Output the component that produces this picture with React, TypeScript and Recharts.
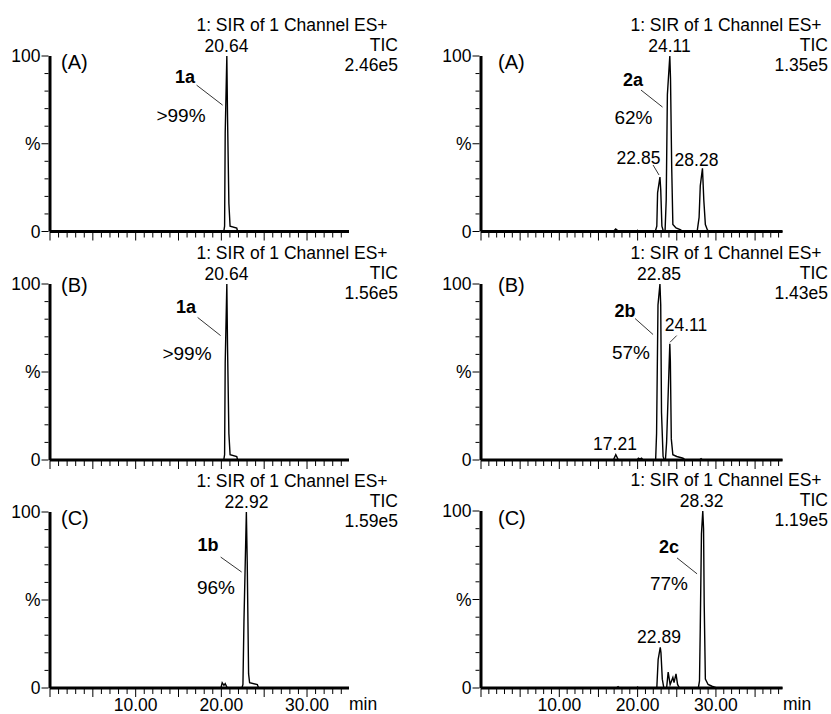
import React from "react";
import { LineChart, Line, XAxis, YAxis, ReferenceLine } from "recharts";

type Pt = [number, number];

// retention time (min), relative abundance (%)
const trace1A: Pt[] = [
  [0, 0], [20.28, 0], [20.38, 3], [20.45, 56], [20.64, 100], [20.72, 66],
  [20.88, 16], [21.02, 3], [21.8, 2], [21.9, 0], [34.9, 0],
];
const trace1B: Pt[] = [
  [0, 0], [20.28, 0], [20.38, 3], [20.45, 55], [20.64, 100], [20.72, 65],
  [20.88, 15], [21.02, 3], [21.8, 2], [21.9, 0], [34.9, 0],
];
const trace1C: Pt[] = [
  [0, 0], [19.95, 0], [20.1, 3], [20.3, 1.5], [20.45, 2.5], [20.7, 0],
  [22.4, 0], [22.52, 2], [22.64, 38], [22.92, 100], [23.02, 72], [23.18, 8],
  [23.3, 3], [24.2, 2], [24.35, 0], [34.9, 0],
];
const trace2A: Pt[] = [
  [0, 0], [16.9, 0], [17.2, 1.5], [17.6, 0], [19.9, 0], [20.0, 0.6], [20.1, 0],
  [22.25, 0], [22.45, 3], [22.55, 22], [22.85, 31], [22.95, 24], [23.1, 3], [23.3, 0],
  [23.5, 0], [23.65, 18], [23.8, 78], [24.11, 100], [24.2, 87], [24.35, 37], [24.5, 4],
  [24.9, 2], [25.5, 1], [25.7, 0],
  [27.6, 0], [27.85, 8], [28.0, 26], [28.28, 36], [28.45, 18], [28.65, 4], [28.9, 1],
  [29.1, 0], [38.5, 0],
];
const trace2B: Pt[] = [
  [0, 0], [16.9, 0], [17.21, 3], [17.55, 0], [19.95, 0], [20.1, 1], [20.3, 0.5],
  [20.5, 1], [20.7, 0],
  [22.3, 0], [22.42, 15], [22.6, 88], [22.85, 100], [22.95, 88], [23.05, 27], [23.25, 2],
  [23.4, 0], [23.55, 0], [23.7, 10], [24.11, 66], [24.18, 56], [24.3, 12], [24.5, 3],
  [25.0, 2], [25.8, 1], [26.1, 0], [27.9, 0], [28.1, 0.8], [28.3, 0], [38.5, 0],
];
const trace2C: Pt[] = [
  [0, 0], [17.3, 0], [17.5, 0.8], [17.7, 0], [19.9, 0], [20.0, 0.5], [20.1, 0],
  [22.45, 0], [22.62, 16], [22.89, 23], [22.98, 20], [23.15, 5], [23.35, 0],
  [23.7, 0], [23.9, 9], [24.15, 2], [24.5, 6], [24.65, 3], [24.9, 8], [25.1, 2], [25.35, 0],
  [27.75, 0], [27.9, 4], [28.0, 34], [28.15, 87], [28.32, 100], [28.42, 90], [28.5, 48],
  [28.65, 5], [29.0, 2], [29.5, 1], [30.1, 0], [38.5, 0],
];

// leader lines (data coords): [t1, v1, t2, v2]
const leaders1A = [[17.11, 83.4, 20.15, 72]];
const leaders1B = [[17.23, 81, 19.91, 70.7]];
const leaders1C = [[19.92, 74.4, 22.37, 65.9]];
const leaders2A = [[20.43, 80.6, 23.18, 70.9], [21.97, 37.9, 22.73, 32.2]];
const leaders2B = [[19.67, 80.4, 21.97, 71.3], [24.99, 70.7, 24.14, 66.9]];
const leaders2C = [[25.03, 73.5, 27.59, 64.5]];

const yTickLabels: Record<number, string> = { 0: "0", 50: "%", 100: "100" };
const xTickLabels: Record<number, string> = { 10: "10.00", 20: "20.00", 30: "30.00" };

const FONT = '"Liberation Sans", Arial, sans-serif';
const FS = 17.5;

type Ann = { s: string; x: number; y: number; a?: "start" | "middle" | "end"; size?: number; bold?: boolean };

const annotations: Ann[] = [
  // left A
  { s: "1: SIR of 1 Channel ES+", x: 292, y: 25 },
  { s: "20.64", x: 226.5, y: 46 },
  { s: "TIC", x: 398, y: 45, a: "end" },
  { s: "2.46e5", x: 398, y: 65, a: "end" },
  { s: "(A)", x: 61, y: 62, a: "start", size: 20 },
  { s: "1a", x: 185, y: 77, bold: true, size: 18 },
  { s: ">99%", x: 181, y: 115, size: 19 },
  // left B
  { s: "1: SIR of 1 Channel ES+", x: 292, y: 253 },
  { s: "20.64", x: 226.5, y: 274 },
  { s: "TIC", x: 398, y: 273, a: "end" },
  { s: "1.56e5", x: 398, y: 293, a: "end" },
  { s: "(B)", x: 61, y: 285, a: "start", size: 20 },
  { s: "1a", x: 186, y: 307, bold: true, size: 18 },
  { s: ">99%", x: 187, y: 353, size: 19 },
  // left C
  { s: "1: SIR of 1 Channel ES+", x: 292, y: 481 },
  { s: "22.92", x: 246.5, y: 502 },
  { s: "TIC", x: 398, y: 501, a: "end" },
  { s: "1.59e5", x: 398, y: 521, a: "end" },
  { s: "(C)", x: 61, y: 518, a: "start", size: 20 },
  { s: "1b", x: 208, y: 545, bold: true, size: 18 },
  { s: "96%", x: 216, y: 587, size: 19 },
  // right A
  { s: "1: SIR of 1 Channel ES+", x: 726, y: 25 },
  { s: "24.11", x: 669.5, y: 46 },
  { s: "TIC", x: 828, y: 45, a: "end" },
  { s: "1.35e5", x: 828, y: 65, a: "end" },
  { s: "(A)", x: 498, y: 62, a: "start", size: 20 },
  { s: "2a", x: 633, y: 80, bold: true, size: 18 },
  { s: "62%", x: 633.5, y: 117, size: 19 },
  { s: "22.85", x: 638.5, y: 158 },
  { s: "28.28", x: 696.5, y: 160 },
  // right B
  { s: "1: SIR of 1 Channel ES+", x: 726, y: 253 },
  { s: "22.85", x: 659, y: 274 },
  { s: "TIC", x: 828, y: 273, a: "end" },
  { s: "1.43e5", x: 828, y: 293, a: "end" },
  { s: "(B)", x: 498, y: 285, a: "start", size: 20 },
  { s: "2b", x: 625, y: 311, bold: true, size: 18 },
  { s: "57%", x: 631, y: 352, size: 19 },
  { s: "24.11", x: 686, y: 325 },
  { s: "17.21", x: 615, y: 444 },
  // right C
  { s: "1: SIR of 1 Channel ES+", x: 726, y: 480 },
  { s: "28.32", x: 701.7, y: 501 },
  { s: "TIC", x: 828, y: 500, a: "end" },
  { s: "1.19e5", x: 828, y: 520, a: "end" },
  { s: "(C)", x: 498, y: 518, a: "start", size: 20 },
  { s: "2c", x: 669, y: 547, bold: true, size: 18 },
  { s: "77%", x: 669, y: 583, size: 19 },
  { s: "22.89", x: 659, y: 637 },
];

const Y_AXIS_W = 50;
const TOP_M = 10;
const X_AXIS_H = 26;
const RIGHT_M = 50;

type PanelProps = {
  trace: Pt[];
  xMax: number;
  plotLeft: number;
  plotWidth: number;
  y100: number;
  y0: number;
  labels: boolean;
  leaders: number[][];
};

function Panel({ trace, xMax, plotLeft, plotWidth, y100, y0, labels, leaders }: PanelProps) {
  const data = trace.map(([t, v]) => ({ t, v }));
  const plotH = y0 - y100;
  const width = Y_AXIS_W + plotWidth + RIGHT_M;
  const height = TOP_M + plotH + X_AXIS_H;
  const xTicks = Array.from({ length: Math.floor(xMax) + 1 }, (_, i) => i);
  const yTicks = [0, 10, 20, 30, 40, 50, 60, 70, 80, 90, 100];

  const XTick = (p: any) => {
    const v = p.payload.value;
    const len = v % 5 === 0 ? 9 : 6;
    return (
      <g>
        <line x1={p.x} y1={p.y} x2={p.x} y2={p.y + len} stroke="#000" strokeWidth={1} />
        {labels && xTickLabels[v] && (
          <text x={p.x} y={p.y + 17} textAnchor="middle" dominantBaseline="central"
            fontFamily={FONT} fontSize={FS} fill="#000">{xTickLabels[v]}</text>
        )}
      </g>
    );
  };

  const YTick = (p: any) => {
    const v = p.payload.value;
    const major = v % 50 === 0;
    const len = major ? 7 : 4;
    return (
      <g>
        <line x1={p.x - 1.5 - len} y1={p.y} x2={p.x - 1.5} y2={p.y} stroke="#000" strokeWidth={1} />
        {major && (
          <text x={p.x - 9.5} y={p.y} textAnchor="end" dominantBaseline="central"
            fontFamily={FONT} fontSize={FS} fill="#000">{yTickLabels[v]}</text>
        )}
      </g>
    );
  };

  return (
    <div style={{ position: "absolute", left: plotLeft - Y_AXIS_W, top: y100 - TOP_M }}>
      <LineChart width={width} height={height} data={data}
        margin={{ top: TOP_M, right: RIGHT_M, bottom: 0, left: 0 }}>
        <XAxis type="number" dataKey="t" domain={[0, xMax]} ticks={xTicks} interval={0}
          tickLine={false} tickSize={0} tickMargin={0} height={X_AXIS_H}
          axisLine={{ stroke: "#000", strokeWidth: 3 }} tick={XTick} />
        <YAxis type="number" domain={[0, 100]} ticks={yTicks} interval={0}
          tickLine={false} tickSize={0} tickMargin={0} width={Y_AXIS_W}
          axisLine={{ stroke: "#000", strokeWidth: 3 }} tick={YTick} />
        {leaders.map((l, i) => (
          <ReferenceLine key={i} ifOverflow="visible" stroke="#000" strokeWidth={0.8}
            segment={[{ x: l[0], y: l[1] }, { x: l[2], y: l[3] }]} />
        ))}
        <Line type="linear" dataKey="v" stroke="#000" strokeWidth={1.4} dot={false}
          isAnimationActive={false} />
      </LineChart>
      {labels && (
        <div style={{ position: "absolute", left: Y_AXIS_W + plotWidth + 0.5, top: TOP_M + plotH + 17,
          transform: "translateY(-50%)", fontFamily: FONT, fontSize: FS, lineHeight: 1 }}>min</div>
      )}
    </div>
  );
}

export default function App() {
  return (
    <div style={{ position: "absolute", left: 0, top: 0, width: 831, height: 714, background: "#fff", overflow: "hidden" }}>
      <Panel trace={trace1A} xMax={34.9} plotLeft={49.5} plotWidth={299} y100={56} y0={231.5} labels={false} leaders={leaders1A} />
      <Panel trace={trace1B} xMax={34.9} plotLeft={49.5} plotWidth={299} y100={283.5} y0={459.5} labels={false} leaders={leaders1B} />
      <Panel trace={trace1C} xMax={34.9} plotLeft={49.5} plotWidth={299} y100={512} y0={688} labels={true} leaders={leaders1C} />
      <Panel trace={trace2A} xMax={38.5} plotLeft={481} plotWidth={301.5} y100={56} y0={231.5} labels={false} leaders={leaders2A} />
      <Panel trace={trace2B} xMax={38.5} plotLeft={481} plotWidth={301.5} y100={283.5} y0={459.5} labels={false} leaders={leaders2B} />
      <Panel trace={trace2C} xMax={38.5} plotLeft={481} plotWidth={301.5} y100={510.5} y0={687.5} labels={true} leaders={leaders2C} />
      <svg width={831} height={714} style={{ position: "absolute", left: 0, top: 0, pointerEvents: "none" }}>
        {annotations.map((a, i) => (
          <text key={i} x={a.x} y={a.y} textAnchor={a.a ?? "middle"} dominantBaseline="central"
            fontFamily={FONT} fontSize={a.size ?? FS} fontWeight={a.bold ? "bold" : "normal"} fill="#000">
            {a.s}
          </text>
        ))}
      </svg>
    </div>
  );
}
